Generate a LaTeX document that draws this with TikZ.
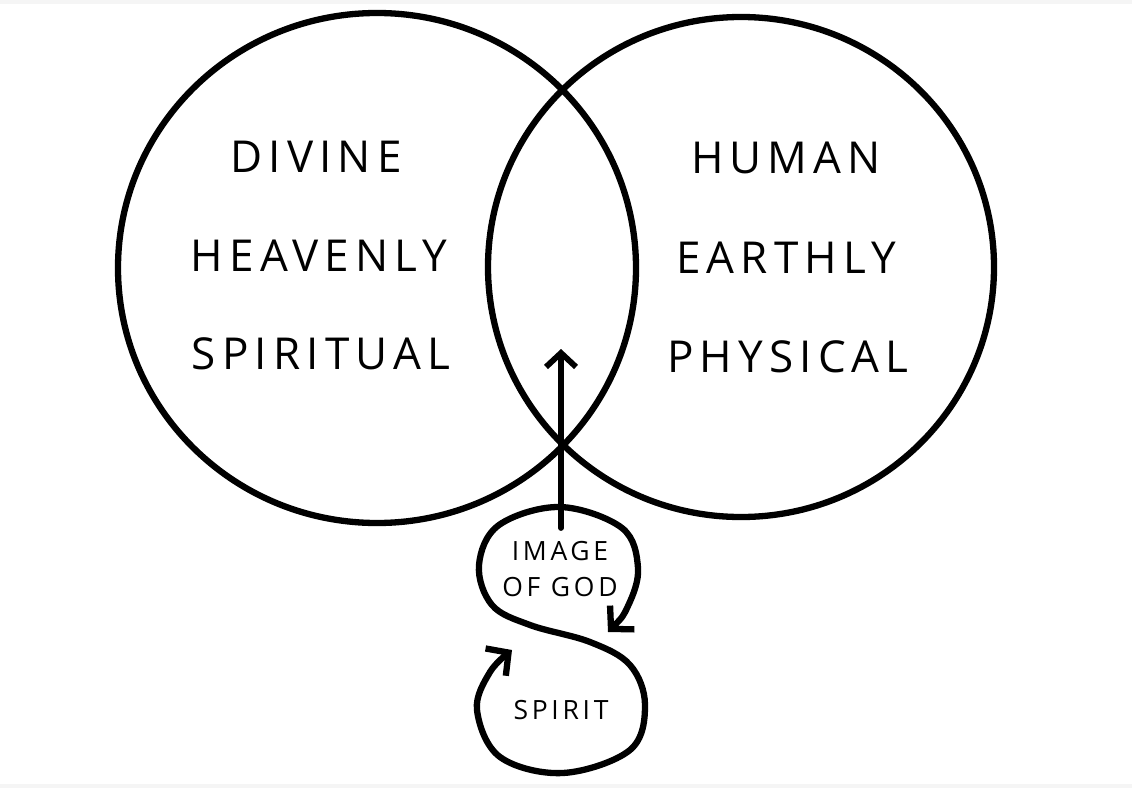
\documentclass[tikz,border=0pt]{standalone}
\usepackage{fontspec}
\setmainfont{Open Sans}[LetterSpace=14]
\usetikzlibrary{arrows.meta}
\begin{document}
\begin{tikzpicture}[x=1bp,y=-1bp, line width=6.3bp, line cap=round, line join=round,
  big/.style={font=\fontsize{44bp}{50bp}\selectfont, inner sep=0pt},
  small/.style={font=\fontsize{26.5bp}{36bp}\selectfont, inner sep=0pt, align=center},
  barbtip/.tip={Straight Barb[length=14bp,width=30bp]},
  sbarbtip/.tip={Straight Barb[length=16bp,width=34bp]},
  arrowline/.style={-barbtip, line width=5.8bp},
  sline/.style={sbarbtip-sbarbtip, line width=6.3bp}]
\useasboundingbox (0,0) rectangle (1132,788);
\fill[gray!8] (0,0) rectangle (1132,4);
\fill[gray!8] (0,784) rectangle (1132,788);
% circles
\draw (377,268) ellipse [x radius=259bp, y radius=255bp];
\draw (741,267) ellipse [x radius=253bp, y radius=250bp];
% labels
\node[big] (divine) at (316,157) {DIVINE};
\node[big] (heavenly) at (319,256) {HEAVENLY};
\node[big] (spiritual) at (321,354) {SPIRITUAL};
\node[big] (human) at (786,158) {HUMAN};
\node[big] (earthly) at (786,258) {EARTHLY};
\node[big] (physical) at (788,357) {PHYSICAL};
\node[small] (image) at (560,569) {IMAGE\\OF GOD};
\node[small] (spirit) at (561,710) {SPIRIT};
% vertical arrow
\coordinate (arrS) at (561,528);
\coordinate (arrE) at (561,349);
\draw[arrowline] (arrS) -- (arrE);
% S curve
\draw[sline] plot[smooth, tension=0.6] coordinates {
  (608,632) (628,606) (638,568) (622,528) (560,507) (499,525) (479,565)
  (492,605) (530,625) (590,642) (630,665) (645,705) (630,750) (563,773)
  (500,757) (477,710) (490,672) (512,650)};
\end{tikzpicture}
\end{document}
